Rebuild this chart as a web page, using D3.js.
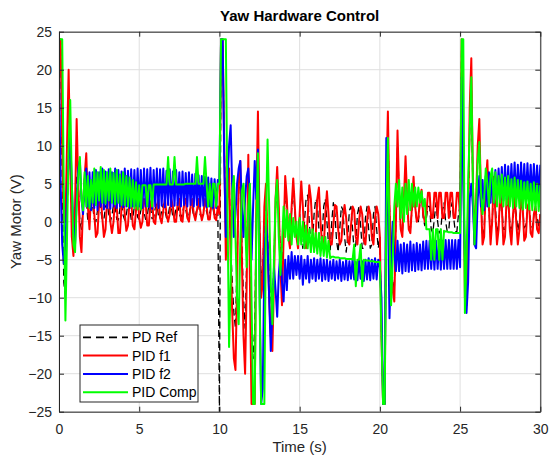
<!DOCTYPE html>
<html>
<head>
<meta charset="utf-8">
<script src="https://cdn.jsdelivr.net/npm/d3@7/dist/d3.min.js"></script>
<style>
  body { margin: 0; background: #fff; }
  svg { font-family: "Liberation Sans", Arial, sans-serif; }
</style>
</head>
<body>
<div class="container"></div>
<script>
// samples every 0.1 s, t = 0 .. 30
const dt = 0.1

const pdRef = [
  24, 24, 5, -8, -10, 0, 10, 8, 0, -3, 0,
  6, 5, 0, -1, 2, 4, 3, 0, 0.5, 2.5,
  2, 0.3, 0, 1.5, 2.5, 1.5, 0.2, 0.3, 2, 2.5,
  1, 0, 0.8, 2.3, 2, 0.3, 0.2, 1.8, 2.4, 0.8,
  0.2, 1, 2.4, 1.8, 0.3, 0.5, 2, 2.3, 0.6, 0.3,
  1.5, 2.4, 1.2, 0.3, 0.8, 2.2, 2, 0.4, 0.5, 1.8,
  2.3, 0.8, 0.4, 1.4, 2.3, 1.5, 0.5, 0.8, 2, 2,
  0.6, 0.6, 1.8, 2.2, 1, 0.5, 1.2, 2.2, 1.6, 0.5,
  0.9, 2, 2, 0.6, 0.7, 1.8, 2.2, 0.9, 0.6, 1.5,
  2.2, 1.3, 0.6, 1.2, 2.1, 1.7, 0.6, 1, 1.2, -25,
  24, 24, 10, -2, 3, 6, -3, -8, -12, -14,
  -5, 4, 6, -3, -10, -14, -5, 5, -4, -15,
  -18, -14, 0, 8, 0, -8, -6, 0, 3, -2,
  -7, -10, -12, -5, 2, 5, 1, -4, -7, -1,
  4, 2, -1, -2.5, 1.5, 4, 1.5, -1.5, -2.5, 1,
  -2, -3.5, 0, 3, 3.5, 0, -3, -3, 1, 3,
  2.5, -1, -3.5, -2, 2, 3, 0, -3, -4, 0,
  2.5, 1, -2.5, -4, -1, 2, 1.5, -2, -4, -2,
  1.5, 2, -1, -4, -3, 1, 2, -0.5, -3.5, -3.5,
  0.5, 2, -1, -3.5, -3, 1, 2, -1, -3.5, -2,
  -15, -24, -24, 3, 12, 2, -4, -8, -9, 0,
  10, 4, -1, -1.5, 2, 7, 2.5, -0.5, -1, 1.5,
  5, 2, 0, 0, 2.5, 3.5, 0.5, -0.5, 0.5, 2,
  2, -1, -1.5, 0.5, 2.5, 0, -1.5, -1, 1.5, 2.5,
  0, -1.3, -1, 1.5, 2.5, 0.5, -1.3, -1.3, 1, 2,
  24, 12, -8, -10, 0, 12, 18, 4, -2, 2,
  8, 10, 3, -2, -1, 4, 6, 1.5, -2, 0,
  4, 2, -1.5, -0.5, 2.5, 2, -1, -1, 2, 2.5,
  0, -1.5, 0.5, 2.5, 1, -1.2, 0, 2, 1.8, -0.8,
  -0.5, 1.5, 2, 0, -0.8, 0.8, 1.8, 0.5, -0.5, 1
]

const pidF1 = [
  24, 24, 10, 0, 0, 10, 20, 8, -2, -4.5, 2,
  13.5, 5, -2, -4, 2, 6, 9, 2, -1, 4,
  3.5, 1, -2, -1.5, 2.5, 3.5, 0.5, -2, -1, 3,
  3.5, 0, -1.5, 0, 3.5, 2, -1.5, -1.5, 2, 3.5,
  1, -1.2, -0.5, 3, 3, -0.5, -1, 1.5, 3.5, 0.5,
  -0.8, 0, 3, 2.5, -0.5, -0.5, 2.5, 3, 0, -0.3,
  2, 3, 0.5, -0.2, 1.5, 3, 1, 0, 1, 3,
  2, 0, 0, 2.5, 3, 0.2, 0, 2.5, 3, 0.5,
  0, 2, 3, 1, 0.2, 1.5, 3, 1.5, 0.2, 1,
  3, 2, 0.3, 0.3, 2.5, 3, 0.5, 0.2, 2, 1,
  24, 24, 10, -5, 3, 7, -5, -12, -18, -19.5,
  -8, 6, 8, -5, -15, -20, -8, 8.8, -8, -24,
  -24, -24, 2, 14.5, 0, -10, -8, 2, 5, -3,
  -10, -15, -17, -8, 3, 7.2, 2, -6, -11, -2,
  6, 3, -2, -3.5, 2, 5.7, 2, -2, -3.5, 1,
  5.3, 2, -2.5, -3.5, 0.5, 4.8, 3, -1, -3.5, -2,
  3, 4.5, 0, -3, -3.5, 1, 4, 1, -3, -3,
  -0.5, 2.2, 2, -1, -3, -2.5, 0.5, 2.2, 0.5, -2.5,
  -3, -0.5, 2, 1.5, -2, -3, 0, 2, 1, -2.5,
  -3, 0, 2, 1, -2, -3, 0.5, 2, 1, -2,
  -15, -24, -24, 5, 14.5, 2, -5, -9, -10.5, 0,
  12, 4, -1, -2, 3, 8.6, 3, -1, -1.5, 2,
  5.9, 2, 0, 0.5, 3, 4.2, 1, 0, 1, 3.8,
  3.8, 0.5, 0.5, 3.8, 3.8, 0.5, 3.8, 3.8, 0.5, 0.5,
  3.8, 3.8, 0.5, 3.8, 3.8, 0.5, 0.5, 3.8, 3.8, 0.5,
  24, 10, -10, -11, 0, 15, 21.5, 5, -3, 3,
  10, 13.5, 3, -3, -2, 5, 8.1, 2, -3, 0,
  5.9, 1, -3, -1, 4, 2, -3, -2, 3, 3.5,
  -1, -3, 1, 3.5, 0, -3, -1, 3, 2, -2.5,
  -2, 2, 2.5, -1.5, -2, 1, 2, -1, -1.5, 1
]

const pidF2 = [
  20, 5, -3, -5.5, -3, 3, 8, 11, 5, -1, -3,
  3, 7, 8, 3, 1, 5.5, 7, 2, 6.5, 1.5,
  6.5, 1.8, 6.8, 1.5, 6.5, 2, 7, 1.6, 6.6, 1.8,
  6.9, 1.7, 6.5, 2, 7, 1.8, 6.8, 2, 6.6, 1.9,
  7, 2, 6.7, 1.8, 6.9, 2, 6.8, 2.1, 7, 2,
  6.8, 1.8, 7, 2, 6.9, 1.9, 7.1, 1.7, 6.8, 2,
  7, 1.8, 6.9, 2.1, 7, 1.9, 6.7, 2.2, 6.9, 2,
  6.6, 2.1, 6.8, 2.2, 6.5, 2, 6.6, 2.2, 6.4, 2,
  6.5, 2.2, 6.2, 2, 6.3, 2.2, 6.1, 2, 6, 2.1,
  5.9, 1.9, 5.8, 2, 5.7, 1.8, 5.6, 1.8, 5.5, 5.3,
  24, 24, 8, -2, 5, 10, 12.7, 4, -2, 1,
  5, 7, 8, 2, -2, 3, 6, 7, 3, -5,
  2, 8, 3, 9.5, -8, -24, -22, -5, 0, -3,
  -10, -17, -12, -6, -9, -12.5, -7, -4, -8, -10.5,
  -5, -9, -4.5, -7.5, -4, -7.5, -4.5, -7, -4.5, -7.5,
  -4.5, -8.3, -5, -7.5, -4.5, -8, -5, -7.5, -4.8, -7.8,
  -5, -7.5, -4.8, -7.8, -5, -7.6, -5, -7.8, -5.2, -7.5,
  -5, -7.7, -5.2, -7.5, -5, -7.8, -5.3, -7.6, -5, -7.7,
  -5.2, -7.5, -5, -7.6, -5.3, -7.7, -5, -7.5, -5.2, -7.8,
  -5, -7.6, -4.8, -7.7, -5, -7.5, -4.8, -7.6, -5, -6,
  -10, -24, -24, 11, 2, -12.7, -5, 0, -4, -6.5,
  -2.5, -6.5, -3, -6.8, -2.8, -6.5, -3, -6.6, -2.6, -6.4,
  -3, -6.5, -2.8, -6.3, -3, -6.4, -2.6, -6.2, -2.5, -6.2,
  -2.5, -6.2, -2.6, -6.3, -2.5, -6.2, -2.4, -6.3, -2.5, -6.2,
  -2.4, -6.2, -2.4, -6.2, -2.4, -6.2, -2.4, -6.2, -2.4, -6,
  19, 5, -5, -12, -8, 3, 5, 2, -3, -3.5,
  3, 6, 2, 5.5, 1.5, 6, 2, 6.5, 2.5, 6.5,
  2.5, 6.8, 2.6, 7, 2.8, 7.2, 2.8, 7.5, 3, 7.3,
  3, 7.6, 3.2, 7.8, 3, 7.5, 3.2, 7.8, 3.3, 7.6,
  3.2, 7.7, 3.4, 7.5, 3.2, 7.6, 3.3, 7.4, 3.4, 7.5
]

const pidComp = [
  24, 24, 24, 4, -13, -2, 10, 16, 5, -3, -4,
  2, 6, 8.5, 3, 1.5, 6.5, 2, 6, 1.8, 5.5,
  2.5, 7, 2.2, 6.5, 2.8, 7.2, 2.5, 6.8, 2.4, 6.5,
  2.8, 7, 2.5, 6.4, 2.3, 6.8, 2.5, 6.2, 2.2, 6.5,
  2.2, 6, 2, 5.8, 2, 5.5, 1.8, 5.2, 1.6, 4.8,
  1.6, 4.8, 4.8, 4.8, 2, 4.8, 4.8, 2, 4.9, 4.9,
  4.9, 4.9, 4.9, 4.9, 4.9, 4.9, 4.9, 8.5, 4.9, 4.9,
  4.9, 8.5, 4.9, 4.9, 4.9, 4.9, 4.9, 4.9, 5, 5,
  5, 5, 5, 5, 5, 8.5, 5, 5, 5, 5,
  8.5, 5, 2, 5, 2, 5, 5, 2, 5, 5,
  24, 24, 24, 24, 2, -16.5, -8, 4, 6, -2,
  -10, -13.5, -3, 4, 5, 0, -6, 2, 5, -10,
  -24, -24, 0, 9, -10, -24, -24, -24, 0, 10.8,
  2, -8, -13.5, -5, 3, 5.5, -2, -7, -3, 2,
  -2, 1.5, -2.5, 1, -3, 0.5, -2, 0, -3, 0.5,
  -3, 0, -3.5, -0.5, -3.5, -1, -4, -1, -4, -1.5,
  -4.2, -1.5, -4.5, -2, -4.5, -2, -4.7, -2.5, -4.8, -4.6,
  -4.6, -4.7, -4.7, -4.7, -4.8, -4.8, -4.8, -4.8, -4.9, -4.9,
  -4.9, -4.9, -5, -3, -8.5, -5, -5, -3, -8.5, -5,
  -5.1, -5.1, -5.1, -5.2, -5.2, -5.2, -5.3, -5.3, -5.3, -5.3,
  -15, -24, -24, 0, 11, -2, -11, -5, 2, 5,
  2, 5.5, 0.5, 4.5, 0, 5, 1, 5.5, 1.5, 5,
  2, 4.5, 2, 4.5, 2.5, 4, 2, 3, -1, -1,
  -1, -5, -1, -5, -1, -1, -5, -1, -5, -1.2,
  -1.3, -1.3, -1.4, -1.4, -1.4, -1.5, -1.5, -1.5, -1.5, -1.5,
  24, 24, -12, -5, 5, 12, 19, 5, -3, 2,
  8, 10.5, 4, 1, 3, 7, 5, 2, 6, 7,
  2.5, 6.5, 2, 6, 2.5, 6.2, 2, 5.8, 2.2, 6,
  2, 5.6, 1.8, 5.8, 2, 5.5, 1.8, 5.4, 1.6, 5.2,
  1.8, 5.3, 1.6, 5, 1.5, 5.2, 1.5, 5, 1.4, 4.8
]

const seriesNames = ['PD Ref', 'PID f1', 'PID f2', 'PID Comp']
const seriesColors = ['#000000', '#ff0000', '#0000ff', '#00ff00']
const xTicks = [0, 5, 10, 15, 20, 25, 30]
const yTicks = [-25, -20, -15, -10, -5, 0, 5, 10, 15, 20, 25]

const W = 549, H = 459
const margin = { top: 31.7, left: 59, right: 8.7, bottom: 47.3 }
const width = W - margin.left - margin.right
const height = H - margin.top - margin.bottom
const axisColor = '#262626'

const svg = d3.select('.container').append('svg')
    .attr('width', W)
    .attr('height', H)

svg.append('rect').attr('width', W).attr('height', H).attr('fill', '#fff')

const g = svg.append('g')
    .attr('transform', `translate(${margin.left},${margin.top})`)

const x = d3.scaleLinear().domain([0, 30]).range([0, width])
const y = d3.scaleLinear().domain([-25, 25]).range([height, 0])

// grid
g.append('g').selectAll('line').data(xTicks).enter().append('line')
    .attr('x1', d => x(d)).attr('x2', d => x(d))
    .attr('y1', 0).attr('y2', height)
    .attr('stroke', '#dfdfdf')
g.append('g').selectAll('line').data(yTicks).enter().append('line')
    .attr('y1', d => y(d)).attr('y2', d => y(d))
    .attr('x1', 0).attr('x2', width)
    .attr('stroke', '#dfdfdf')

g.append('clipPath').attr('id', 'clip')
    .append('rect').attr('width', width).attr('height', height)

const line = d3.line()
    .x((d, i) => x(i * dt))
    .y(d => y(d))

const series = [pdRef, pidF1, pidF2, pidComp].map((v, k) => ({
    name: seriesNames[k], color: seriesColors[k], values: v
}))

g.append('g').attr('clip-path', 'url(#clip)')
    .selectAll('path').data(series).enter().append('path')
    .attr('d', d => line(d.values))
    .attr('fill', 'none')
    .attr('stroke', d => d.color)
    .attr('stroke-width', (d, i) => i === 0 ? 1.3 : 2)
    .attr('stroke-dasharray', (d, i) => i === 0 ? '7,4' : null)
    .attr('stroke-linejoin', 'round')

// axes, ticks pointing inward (box on)
const styleAxis = sel => {
    sel.selectAll('path,line').attr('stroke', axisColor)
    sel.selectAll('text').attr('fill', axisColor).style('font-size', '14px')
}
g.append('g').attr('transform', `translate(0,${height})`)
    .call(d3.axisBottom(x).tickValues(xTicks).tickSizeInner(-5).tickSizeOuter(0).tickPadding(12))
    .call(styleAxis)
g.append('g')
    .call(d3.axisTop(x).tickValues(xTicks).tickSizeInner(-5).tickSizeOuter(0).tickFormat(''))
    .call(styleAxis)
g.append('g')
    .call(d3.axisLeft(y).tickValues(yTicks).tickSizeInner(-5).tickSizeOuter(0).tickPadding(7))
    .call(styleAxis)
g.append('g').attr('transform', `translate(${width},0)`)
    .call(d3.axisRight(y).tickValues(yTicks).tickSizeInner(-5).tickSizeOuter(0).tickFormat(''))
    .call(styleAxis)

// title + labels
svg.append('text')
    .attr('x', margin.left + width / 2).attr('y', 21)
    .attr('text-anchor', 'middle')
    .style('font-size', '15px').style('font-weight', 'bold')
    .text('Yaw Hardware Control')
svg.append('text')
    .attr('x', margin.left + width / 2).attr('y', 452)
    .attr('text-anchor', 'middle').attr('fill', axisColor)
    .style('font-size', '15px')
    .text('Time (s)')
svg.append('text')
    .attr('transform', `translate(21,${margin.top + height / 2}) rotate(-90)`)
    .attr('text-anchor', 'middle').attr('fill', axisColor)
    .style('font-size', '15px')
    .text('Yaw Motor (V)')

// legend
const legend = svg.append('g').attr('transform', 'translate(80,325)')
legend.append('rect')
    .attr('width', 118).attr('height', 77)
    .attr('fill', '#fff').attr('stroke', axisColor)
const item = legend.selectAll('.item').data(series).enter().append('g')
    .attr('class', 'item')
    .attr('transform', (d, i) => `translate(0,${12.3 + i * 18.3})`)
item.append('line')
    .attr('x1', 3).attr('x2', 48)
    .attr('stroke', d => d.color)
    .attr('stroke-width', (d, i) => i === 0 ? 1.8 : 2)
    .attr('stroke-dasharray', (d, i) => i === 0 ? '8,5' : null)
item.append('text')
    .attr('x', 52).attr('dy', '0.35em')
    .attr('fill', '#000')
    .style('font-size', '14px')
    .text(d => d.name)
</script>
</body>
</html>
